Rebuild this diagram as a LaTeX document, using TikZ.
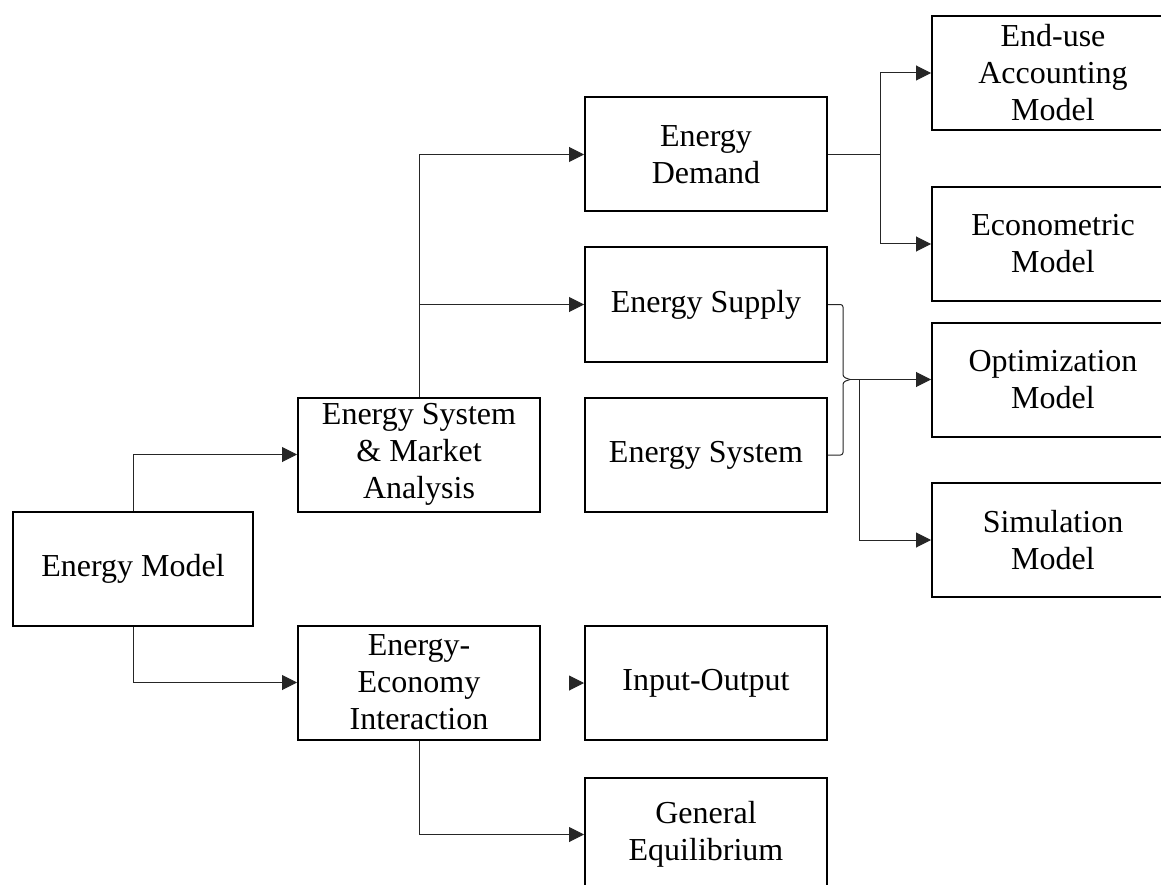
\documentclass[tikz,border=0pt]{standalone}
\usepackage{fontspec}
\setmainfont{Liberation Serif}
\usetikzlibrary{arrows.meta}
\begin{document}
\begin{tikzpicture}[x=1pt,y=-1pt,
  box/.style={draw=black,line width=2pt,minimum width=242pt,minimum height=114pt,
    inner sep=0pt,align=center,font=\fontsize{32}{37}\selectfont},
  conn/.style={draw=black!85,line width=1pt},
  arr/.style={conn,-{Triangle[length=15pt,width=15pt]}}]
\useasboundingbox (0,0) rectangle (1161,885);
\clip (0,0) rectangle (1161,885);
\fill[white] (0,0) rectangle (1161,885);
% boxes
\node[box,minimum width=240pt] (em) at (133,569) {Energy Model};
\node[box] (esma) at (419,454.5) {Energy System\\\& Market\\Analysis};
\node[box] (eei) at (419,682.5) {Energy-\\Economy\\Interaction};
\node[box] (ed) at (706,154.5) {Energy\\Demand};
\node[box] (es) at (706,304.5) {Energy Supply};
\node[box] (esys) at (706,455) {Energy System};
\node[box] (io) at (706,683) {Input-Output};
\node[box] (ge) at (706,834.5) {General\\Equilibrium};
\node[box] (eu) at (1053,73) {End-use\\Accounting\\Model};
\node[box] (ec) at (1053,244) {Econometric\\Model};
\node[box] (opt) at (1053,379.5) {Optimization\\Model};
\node[box] (sim) at (1053,540) {Simulation\\Model};
% connectors
\draw[arr] (em.north) |- (esma.west);
\draw[arr] (em.south) |- (eei.west);
\draw[arr] (esma.north) |- (ed.west);
\draw[arr] (esma.north) |- (es.west);
\draw[arr] (eei.south) |- (ge.west);
\coordinate (iostub) at (569,683);
\draw[arr] (iostub) -- (io.west);
\draw[conn] (ed.east) -- (880,154.5) coordinate (dj);
\draw[arr] (dj) |- (eu.west);
\draw[arr] (dj) |- (ec.west);
\coordinate (bj) at (850,379.5);
\coordinate (sj) at (859,379.5);
\draw[conn,rounded corners=2.5pt] (es.east) -- (843,304.5) -- (843,377) -- (bj);
\draw[conn,rounded corners=2.5pt] (esys.east) -- (843,455) -- (843,382) -- (bj);
\draw[arr] (bj) -- (opt.west);
\draw[arr] (sj) |- (sim.west);
\end{tikzpicture}
\end{document}
